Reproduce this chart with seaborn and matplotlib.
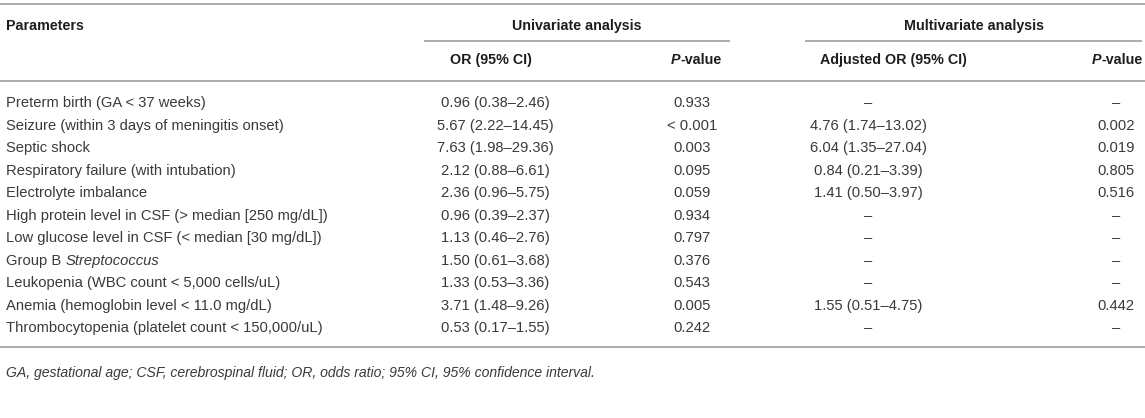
import matplotlib
matplotlib.use("Agg")
import matplotlib.pyplot as plt
import seaborn as sns

# ---------------- data ----------------
parameters = [
    "Preterm birth (GA < 37 weeks)",
    "Seizure (within 3 days of meningitis onset)",
    "Septic shock",
    "Respiratory failure (with intubation)",
    "Electrolyte imbalance",
    "High protein level in CSF (> median [250 mg/dL])",
    "Low glucose level in CSF (< median [30 mg/dL])",
    "Group B *Streptococcus*",
    "Leukopenia (WBC count < 5,000 cells/uL)",
    "Anemia (hemoglobin level < 11.0 mg/dL)",
    "Thrombocytopenia (platelet count < 150,000/uL)",
]
uni_or = [
    "0.96 (0.38–2.46)", "5.67 (2.22–14.45)", "7.63 (1.98–29.36)",
    "2.12 (0.88–6.61)", "2.36 (0.96–5.75)", "0.96 (0.39–2.37)",
    "1.13 (0.46–2.76)", "1.50 (0.61–3.68)", "1.33 (0.53–3.36)",
    "3.71 (1.48–9.26)", "0.53 (0.17–1.55)",
]
uni_p = ["0.933", "< 0.001", "0.003", "0.095", "0.059", "0.934",
         "0.797", "0.376", "0.543", "0.005", "0.242"]
multi_or = ["–", "4.76 (1.74–13.02)", "6.04 (1.35–27.04)", "0.84 (0.21–3.39)",
            "1.41 (0.50–3.97)", "–", "–", "–", "–", "1.55 (0.51–4.75)", "–"]
multi_p = ["–", "0.002", "0.019", "0.805", "0.516", "–", "–", "–", "–",
           "0.442", "–"]
group_headers = ["Univariate analysis", "Multivariate analysis"]
col_headers = ["OR (95% CI)", "*P*-value", "Adjusted OR (95% CI)", "*P*-value"]
first_header = "Parameters"
footnote = ("GA, gestational age; CSF, cerebrospinal fluid; OR, odds ratio; "
            "95% CI, 95% confidence interval.")

# ---------------- style ----------------
sns.set_theme(style="white")
plt.rcParams['font.family'] = ['Liberation Sans', 'DejaVu Sans']

W, H = 1145, 418
fig = plt.figure(figsize=(W / 100, H / 100), dpi=100)
ax = fig.add_axes([0, 0, 1, 1])
ax.set_xlim(0, W)
ax.set_ylim(H, 0)
ax.axis('off')
renderer = fig.canvas.get_renderer()

FS_BODY = 10.6
FS_HEAD = 10.3
FS_FOOT = 10.1
BODY = '#3a3a3a'
HEAD = '#1e1e1e'
RULE = '#ababab'


def rich(x, y, s, ha='left', weight='normal', italic=False, color=BODY,
         fs=FS_BODY):
    """Draw text where *...* toggles italic; align as a whole.
    y is the visual middle of capital letters."""
    base = y + 0.36 * fs * 100 / 72
    parts = s.split('*')
    texts, widths = [], []
    for i, p in enumerate(parts):
        if not p:
            continue
        it = (i % 2 == 1) != italic
        t = ax.text(0, base, p, va='baseline', ha='left', fontsize=fs,
                    fontweight=weight, fontstyle='italic' if it else 'normal',
                    color=color)
        widths.append(t.get_window_extent(renderer=renderer).width)
        texts.append(t)
    total = sum(widths)
    if ha == 'center':
        start = x - total / 2
    elif ha == 'right':
        start = x - total
    else:
        start = x
    for t, w in zip(texts, widths):
        t.set_x(start)
        start += w


# layout
x_left = 6
val_x = [495, 692, 868, 1116]
head_x = [491, 696, 893, 1117]
group_x = [577, 974]
group_span = [(424, 730), (805, 1142)]
y_top, y_group, y_sub, y_colhead, y_headrule = 4, 25, 41, 59, 81
row_y0, row_dy = 102, 22.5
y_bottom = 347
y_foot = 372

# rules
ax.hlines([y_top, y_headrule, y_bottom], 0, W, color=RULE, lw=1.4)
for (a, b) in group_span:
    ax.hlines(y_sub, a, b, color=RULE, lw=1.4)

# headers
rich(x_left, y_group, first_header, weight='bold', color=HEAD, fs=FS_HEAD)
for gx, g in zip(group_x, group_headers):
    rich(gx, y_group, g, ha='center', weight='bold', color=HEAD, fs=FS_HEAD)
for cx, c in zip(head_x, col_headers):
    rich(cx, y_colhead, c, ha='center', weight='bold', color=HEAD, fs=FS_HEAD)

# body
columns = [uni_or, uni_p, multi_or, multi_p]
for i, p in enumerate(parameters):
    y = row_y0 + i * row_dy
    rich(x_left, y, p)
    for cx, col in zip(val_x, columns):
        rich(cx, y, col[i], ha='center')

# footnote
rich(x_left, y_foot, footnote, italic=True, fs=FS_FOOT)

fig.savefig("out.png", dpi=100, facecolor='white')
